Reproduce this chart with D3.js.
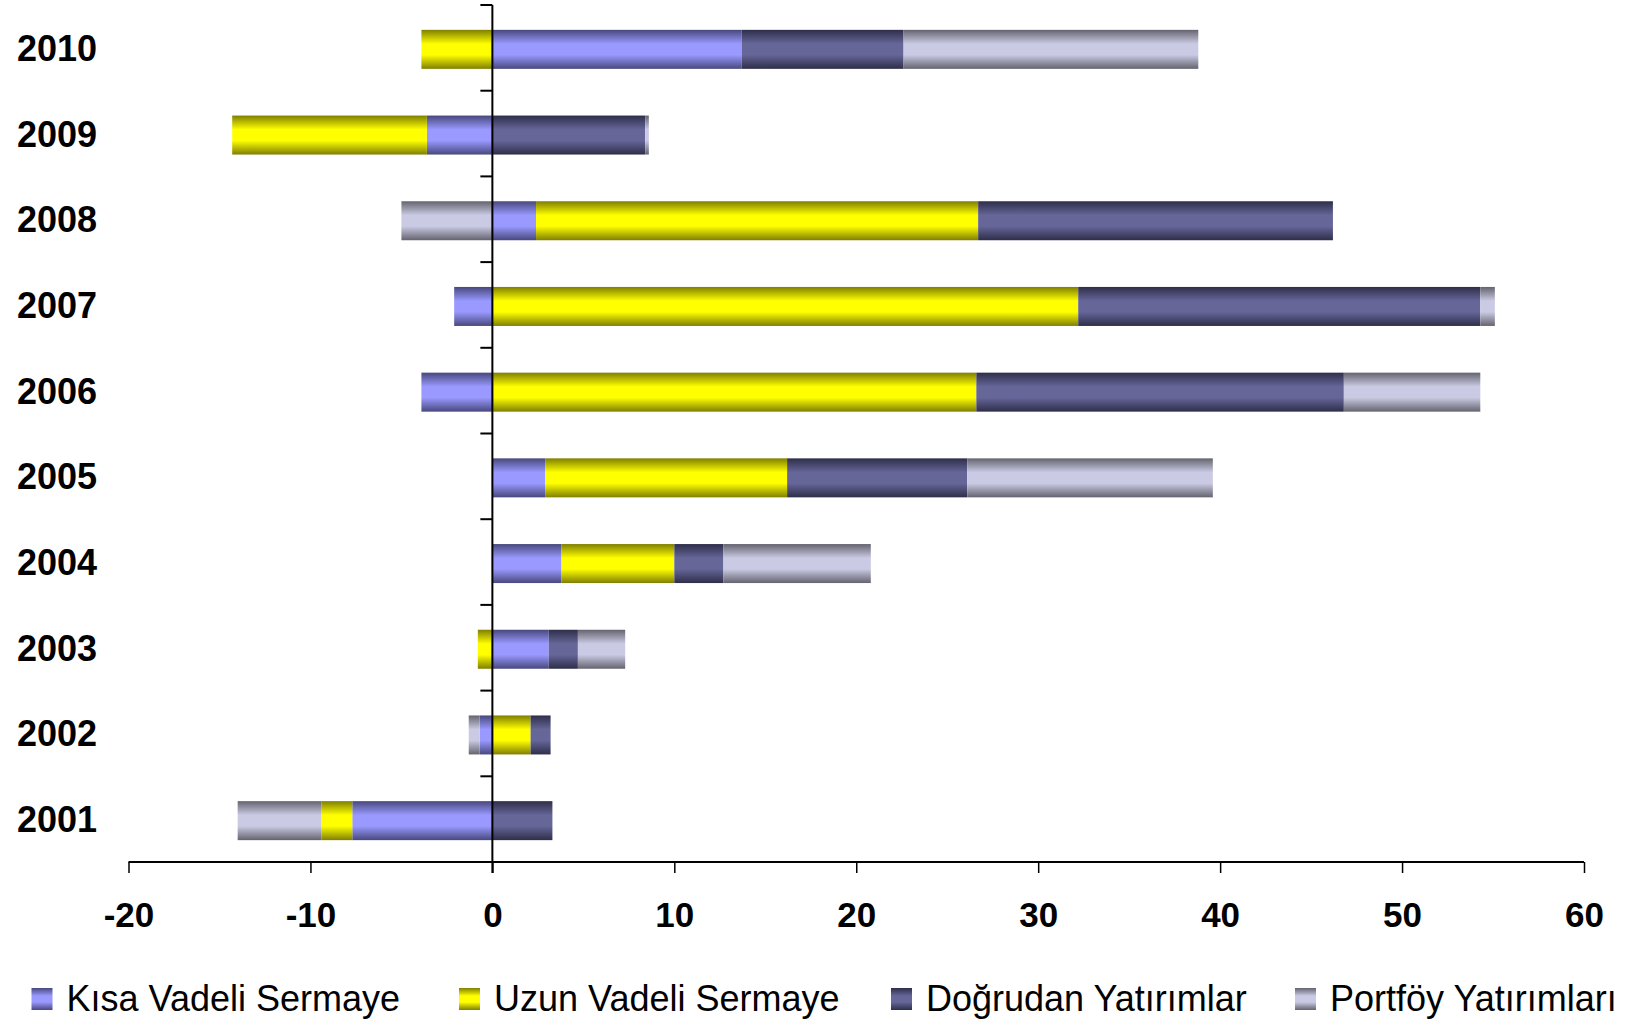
<!DOCTYPE html>
<html>
<head>
<meta charset="utf-8">
<script src="https://cdn.jsdelivr.net/npm/d3@7"></script>
<style>
  html, body { margin: 0; padding: 0; background: #fff; }
  svg { display: block; font-family: Arial, "Liberation Sans", sans-serif; }
</style>
</head>
<body>
<svg id="chart" width="1637" height="1022"></svg>
<script>
// ---- Data ----
const years = ["2001","2002","2003","2004","2005","2006","2007","2008","2009","2010"];
const seriesNames = ["Kısa Vadeli Sermaye","Uzun Vadeli Sermaye","Doğrudan Yatırımlar","Portföy Yatırımları"];
const kisaVadeli   = [-7.7, -0.7,  3.1, 3.8,  2.9, -3.9, -2.1,  2.4, -3.6, 13.7];
const uzunVadeli   = [-1.7,  2.1, -0.8, 6.2, 13.3, 26.6, 32.2, 24.3, -10.7, -3.9];
const dogrudan     = [ 3.3,  1.1,  1.6, 2.7,  9.9, 20.2, 22.1, 19.5,  8.4,  8.9];
const portfoy      = [-4.6, -0.6,  2.6, 8.1, 13.5,  7.5,  0.8, -5.0,  0.2, 16.2];
const xTicks = [-20, -10, 0, 10, 20, 30, 40, 50, 60];
const xTickLabels = ["-20", "-10", "0", "10", "20", "30", "40", "50", "60"];
const lightColors = ["#9999FF", "#FFFF00", "#666699", "#CACAE4"];
const darkColors  = ["#48487E", "#7F7F00", "#2E2E4A", "#64646F"];

// ---- Build table ----
const valuesBySeries = [kisaVadeli, uzunVadeli, dogrudan, portfoy];
const table = years.map((yr, i) => {
  const row = { year: yr };
  seriesNames.forEach((s, j) => row[s] = valuesBySeries[j][i]);
  return row;
});

const svg = d3.select("#chart");
const margin = { left: 128.5, right: 1584, top: 5, bottom: 862 };

const x = d3.scaleLinear().domain([-20, 60]).range([margin.left, margin.right]);
const y = d3.scaleBand().domain(years.slice().reverse()).range([margin.top, margin.bottom]).padding(0);
const barH = y.bandwidth() * 0.455;

// gradients
const defs = svg.append("defs");
seriesNames.forEach((s, j) => {
  const g = defs.append("linearGradient")
    .attr("id", "grad" + j).attr("x1", 0).attr("y1", 0).attr("x2", 0).attr("y2", 1);
  [[0, darkColors[j]], [0.36, lightColors[j]], [0.64, lightColors[j]], [1, darkColors[j]]]
    .forEach(([o, c]) => g.append("stop").attr("offset", o).attr("stop-color", c));
});

const stack = d3.stack().keys(seriesNames).offset(d3.stackOffsetDiverging);
const stacked = stack(table);

const layers = svg.append("g").selectAll("g").data(stacked).join("g")
  .attr("fill", (d, j) => `url(#grad${j})`);
layers.selectAll("rect").data(d => d).join("rect")
  .attr("x", d => x(Math.min(d[0], d[1])))
  .attr("width", d => Math.abs(x(d[1]) - x(d[0])))
  .attr("y", d => y(d.data.year) + (y.bandwidth() - barH) / 2 + 1.5)
  .attr("height", barH);

// x axis
const xAxis = d3.axisBottom(x).tickValues(xTicks).tickSize(11).tickPadding(29)
  .tickFormat((d, i) => xTickLabels[i]);
const gx = svg.append("g").attr("transform", `translate(0,${margin.bottom})`).call(xAxis);
gx.select(".domain").attr("stroke", "#000").attr("stroke-width", 2).attr("d", `M${x(-20)},0H${x(60)}`);
gx.selectAll(".tick line").attr("stroke", "#000").attr("stroke-width", 1.5);
gx.selectAll(".tick text").attr("fill", "#000").attr("font-size", 35).attr("font-weight", "bold")
  .attr("font-family", "Arial, 'Liberation Sans', sans-serif").attr("dy", "0.71em");

// y axis at zero
const gy = svg.append("g").attr("transform", `translate(${x(0)},0)`);
const boundaries = years.slice().reverse().map(yr => y(yr));
gy.append("path")
  .attr("d", `M0,${margin.top}V${margin.bottom + 11}`)
  .attr("stroke", "#000").attr("stroke-width", 2).attr("fill", "none");
gy.selectAll("line.bt").data(boundaries).join("line").attr("class", "bt")
  .attr("x1", -12).attr("x2", 0).attr("y1", d => d).attr("y2", d => d)
  .attr("stroke", "#000").attr("stroke-width", 2);

// year labels
svg.append("g").selectAll("text").data(years).join("text")
  .attr("x", 17)
  .attr("y", d => y(d) + y.bandwidth() / 2)
  .attr("dy", "0.36em")
  .attr("font-size", 36).attr("font-weight", "bold").attr("fill", "#000")
  .text(d => d);

// legend
const legendX = [31.5, 459, 891, 1295];
const lg = svg.append("g").selectAll("g").data(seriesNames).join("g")
  .attr("transform", (d, j) => `translate(${legendX[j]},988)`);
lg.append("rect").attr("width", 21).attr("height", 22).attr("fill", (d, j) => `url(#grad${j})`);
lg.append("text").attr("x", 35).attr("y", 23).attr("font-size", 36).attr("fill", "#000").text(d => d);
</script>
</body>
</html>
